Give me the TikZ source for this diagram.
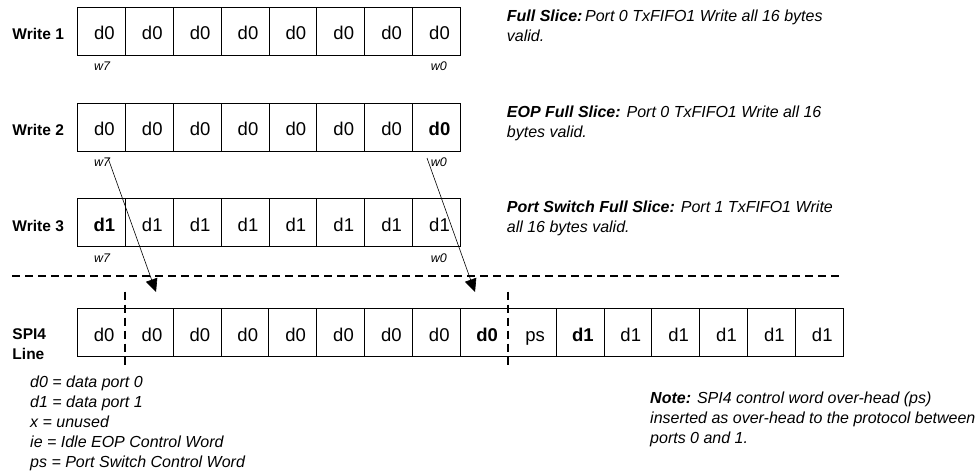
\documentclass[tikz,border=0pt]{standalone}
\usepackage{fontspec}
\setmainfont{Liberation Sans}
\usetikzlibrary{arrows.meta}
\begin{document}
\begin{tikzpicture}[x=1pt,y=-1pt,
  cellbase/.style={minimum width=47.875pt, minimum height=47.7pt, inner sep=0pt,
    text height=32.5pt, text depth=15.2pt, anchor=north west,
    font=\fontsize{18.5}{22}\selectfont, execute at begin node={\kern6pt}},
  cell/.style={cellbase, draw=black, line width=0.9pt},
  cellline/.style={draw=black, line width=0.9pt},
  rowlabel/.style={anchor=base west, inner sep=0pt, font=\bfseries\fontsize{15.5}{20}\selectfont, align=left},
  wlabel/.style={inner sep=0pt, font=\itshape\fontsize{12.5}{15}\selectfont},
  desc/.style={anchor=base west, inner sep=0pt, font=\itshape\fontsize{16}{20}\selectfont},
  sepline/.style={draw=black, line width=1.6pt, dash pattern=on 8pt off 5pt},
  flow/.style={draw=black, line width=0.6pt, -{Triangle[length=13pt,width=12pt]}}
]
\useasboundingbox (0,0) rectangle (979,474);

% Write 1
\node[rowlabel] (wl1) at (12.3,39.5) {Write 1};
\foreach \t [count=\i from 0] in {d0,d0,d0,d0,d0,d0,d0,d0}
  \node[cell] (ra\i) at ({77+\i*47.875},6.8) {\t};
\node[wlabel, anchor=base west] (w7a) at (94,70) {w7};
\node[wlabel, anchor=base east] (w0a) at (447,70) {w0};

% Write 2
\node[rowlabel] (wl2) at (12.3,135.5) {Write 2};
\foreach \t [count=\i from 0] in {d0,d0,d0,d0,d0,d0,d0,{\textbf{d0}}}
  \node[cell] (rb\i) at ({77+\i*47.875},102.8) {\t};
\node[wlabel, anchor=base west] (w7b) at (94,166) {w7};
\node[wlabel, anchor=base east] (w0b) at (447,166) {w0};

% Write 3
\node[rowlabel] (wl3) at (12.3,231) {Write 3};
\foreach \t [count=\i from 0] in {{\textbf{d1}},d1,d1,d1,d1,d1,d1,d1}
  \node[cell] (rc\i) at ({77+\i*47.875},198.3) {\t};
\node[wlabel, anchor=base west] (w7c) at (94,262) {w7};
\node[wlabel, anchor=base east] (w0c) at (447,262) {w0};

% descriptions
\node[desc] (da) at (506.7,21.7) {\begin{tabular}[t]{@{}l@{}}\textbf{Full Slice:}\,Port 0 TxFIFO1 Write all 16 bytes\\valid.\end{tabular}};
\node[desc] (db) at (506.7,117.5) {\begin{tabular}[t]{@{}l@{}}\textbf{EOP Full Slice:} Port 0 TxFIFO1 Write all 16\\bytes valid.\end{tabular}};
\node[desc] (dc) at (506.7,212.5) {\begin{tabular}[t]{@{}l@{}}\textbf{Port Switch Full Slice:} Port 1 TxFIFO1 Write\\all 16 bytes valid.\end{tabular}};

% separator
\coordinate (hl) at (12,275.7);
\coordinate (hr) at (843,275.7);
\draw[sepline] (hl) -- (hr);

% SPI4 line
\node[rowlabel] (sl) at (12.3,339) {\begin{tabular}[t]{@{}l@{}}SPI4\\Line\end{tabular}};
\foreach \t [count=\i from 0] in {d0,d0,d0,d0,d0,d0,d0,d0,{\textbf{d0}},ps,{\textbf{d1}},d1,d1,d1,d1,d1}
  \node[cellbase] (s\i) at ({77+\i*47.875},308.3) {\t};
\draw[cellline] (s0.north west) rectangle (s15.south east);
\foreach \i in {1,2,3,4,5,6,7,9,10,11,12,13,14}
  \draw[cellline] (s\i.north east) -- (s\i.south east);
\draw[sepline] ([yshift=16.6pt]s0.north east) -- ([yshift=-13pt]s0.south east);
\draw[sepline] ([yshift=16.6pt]s8.north east) -- ([yshift=-13pt]s8.south east);

% arrows
\coordinate (a1s) at (108,158);
\coordinate (a1e) at (156,292);
\coordinate (a2s) at (427,158);
\coordinate (a2e) at (475,292);
\draw[flow] (a1s) -- (a1e);
\draw[flow] (a2s) -- (a2e);

% legend
\node[desc] (leg) at (30,387) {\begin{tabular}[t]{@{}l@{}}d0 = data port 0\\d1 = data port 1\\x = unused\\ie = Idle EOP Control Word\\ps = Port Switch Control Word\end{tabular}};

% note
\node[desc] (note) at (650,403.3) {\begin{tabular}[t]{@{}l@{}}\textbf{Note:} SPI4 control word over-head (ps)\\inserted as over-head to the protocol between\\ports 0 and 1.\end{tabular}};
\end{tikzpicture}
\end{document}
